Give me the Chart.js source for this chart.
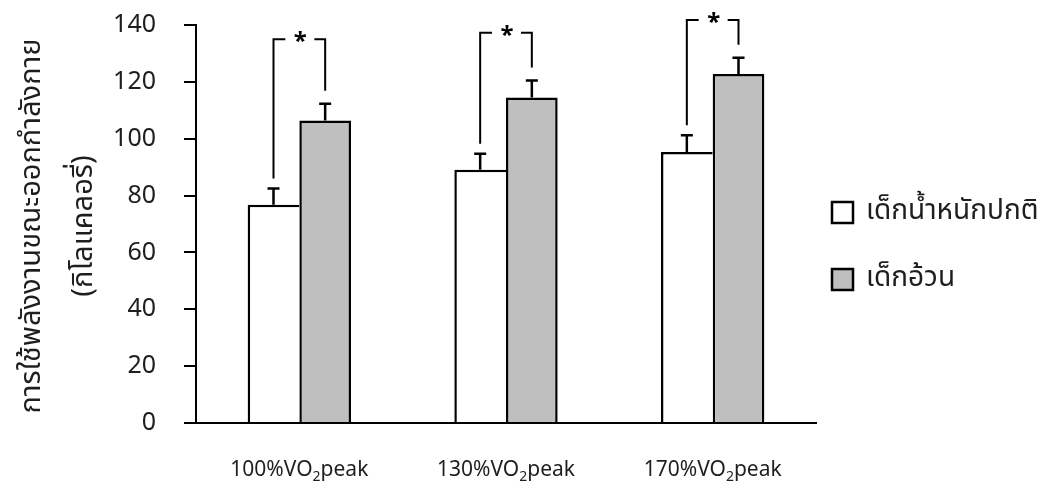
<!DOCTYPE html>
<html>
<head>
<meta charset="utf-8">
<script src="https://cdn.jsdelivr.net/npm/chart.js@4.4.1/dist/chart.umd.min.js"></script>
<style>
  html, body { margin: 0; padding: 0; background: #fff; }
  #wrap { width: 1051px; height: 489px; position: relative; }
</style>
</head>
<body>
<div id="wrap"><canvas id="chart"></canvas></div>
<script>
// ข้อมูล: พลังงานที่ใช้ขณะออกกำลังกาย (กิโลแคลอรี่)
const categories = ['100%VO₂peak', '130%VO₂peak', '170%VO₂peak'];
const seriesNames = ['เด็กน้ำหนักปกติ', 'เด็กอ้วน'];
const normalMean = [76.8, 89.1, 95.3];
const normalSD = [5.7, 5.6, 5.9];
const obeseMean = [106.4, 114.5, 122.8];
const obeseSD = [5.9, 6.0, 5.7];
const sigLevel = [135, 137.3, 141.8];
const yTicks = [0, 20, 40, 60, 80, 100, 120, 140];
const yTitle = ['การใช้พลังงานขณะออกกำลังกาย', '(กิโลแคลอรี่)'];

const INK = '#1e1e1e';
const FONT = '"Noto Sans", "Noto Sans Thai", Tahoma, sans-serif';

// เส้น error bar (ด้านบน) + วงเล็บนัยสำคัญ + ป้ายแกน x + คำอธิบาย
const extras = {
    id: 'extras',
    afterDatasetsDraw(chart) {
        const {ctx, scales: {y}} = chart;
        const sds = [normalSD, obeseSD];
        const capTops = [[], []];

        ctx.save();
        ctx.strokeStyle = '#000';
        ctx.lineWidth = 2.5;
        chart.data.datasets.forEach((ds, di) => {
            chart.getDatasetMeta(di).data.forEach((bar, i) => {
                const top = y.getPixelForValue(ds.data[i] + sds[di][i]);
                capTops[di][i] = top;
                ctx.beginPath();
                ctx.moveTo(bar.x, bar.y);
                ctx.lineTo(bar.x, top);
                ctx.moveTo(bar.x - 6, top);
                ctx.lineTo(bar.x + 6, top);
                ctx.stroke();
            });
        });

        // วงเล็บ * ระหว่างสองกลุ่ม
        ctx.lineWidth = 2;
        const left = chart.getDatasetMeta(0).data;
        const right = chart.getDatasetMeta(1).data;
        categories.forEach((c, i) => {
            const xl = left[i].x, xr = right[i].x;
            const yt = y.getPixelForValue(sigLevel[i]);
            const mid = (xl + xr) / 2;
            ctx.beginPath();
            ctx.moveTo(xl, capTops[0][i] - 10);
            ctx.lineTo(xl, yt);
            ctx.lineTo(mid - 14, yt);
            ctx.moveTo(mid + 15, yt);
            ctx.lineTo(xr, yt);
            ctx.lineTo(xr, capTops[1][i] - 13);
            ctx.stroke();
            ctx.fillStyle = '#000';
            ctx.font = 'bold 24px ' + FONT;
            ctx.textAlign = 'center';
            ctx.textBaseline = 'middle';
            ctx.fillText('*', mid + 1, yt + 3);
        });
        ctx.restore();
    },
    afterDraw(chart) {
        const {ctx, scales: {x}, chartArea} = chart;
        ctx.save();
        ctx.fillStyle = INK;

        // ป้ายแกน x พร้อมตัวห้อย
        categories.forEach((label, i) => {
            const [pre, post] = label.split('₂');
            const big = '21px ' + FONT, small = '14px ' + FONT;
            ctx.font = big;
            const w1 = ctx.measureText(pre).width, w3 = ctx.measureText(post).width;
            ctx.font = small;
            const w2 = ctx.measureText('2').width;
            let cx = x.getPixelForValue(i) - (w1 + w2 + w3) / 2;
            const base = 476;
            ctx.textAlign = 'left';
            ctx.textBaseline = 'alphabetic';
            ctx.font = big; ctx.fillText(pre, cx, base); cx += w1;
            ctx.font = small; ctx.fillText('2', cx, base + 5); cx += w2;
            ctx.font = big; ctx.fillText(post, cx, base);
        });

        // ชื่อแกน y สองบรรทัด
        ctx.font = '29px ' + FONT;
        ctx.textAlign = 'center';
        ctx.textBaseline = 'middle';
        const cy = (chartArea.top + chartArea.bottom) / 2;
        [[32, yTitle[0]], [84, yTitle[1]]].forEach(([px, t]) => {
            ctx.save();
            ctx.translate(px, cy + 2);
            ctx.rotate(-Math.PI / 2);
            ctx.fillText(t, 0, 0);
            ctx.restore();
        });

        // คำอธิบายสัญลักษณ์
        const fills = ['#ffffff', '#bfbfbf'];
        seriesNames.forEach((name, i) => {
            const top = 202 + i * 67;
            ctx.fillStyle = fills[i];
            ctx.fillRect(832, top, 21, 21);
            ctx.strokeStyle = '#000';
            ctx.lineWidth = 2.5;
            ctx.strokeRect(832, top, 21, 21);
            ctx.fillStyle = INK;
            ctx.font = '28px ' + FONT;
            ctx.textAlign = 'left';
            ctx.textBaseline = 'middle';
            ctx.fillText(name, 866, top + 9);
        });
        ctx.restore();
    }
};

new Chart(document.getElementById('chart'), {
    type: 'bar',
    data: {
        labels: categories,
        datasets: [{
            label: seriesNames[0],
            data: normalMean,
            backgroundColor: '#ffffff',
            borderColor: '#000',
            borderWidth: {top: 2.5, left: 2.5, right: 0, bottom: 0},
            borderSkipped: 'start'
        }, {
            label: seriesNames[1],
            data: obeseMean,
            backgroundColor: '#bfbfbf',
            borderColor: '#000',
            borderWidth: {top: 2.5, left: 2.5, right: 2.5, bottom: 0},
            borderSkipped: 'start'
        }]
    },
    options: {
        responsive: true,
        maintainAspectRatio: false,
        animation: false,
        categoryPercentage: 0.5,
        barPercentage: 1.0,
        layout: {padding: {top: 25, right: 235, bottom: 0, left: 0}},
        plugins: {legend: {display: false}, tooltip: {enabled: false}},
        scales: {
            x: {
                grid: {display: false},
                border: {color: '#000', width: 2},
                ticks: {display: false},
                afterFit: s => { s.height = 66; }
            },
            y: {
                min: 0,
                max: 140,
                afterBuildTicks: s => { s.ticks = yTicks.map(v => ({value: v})); },
                ticks: {color: INK, font: {family: FONT, size: 25}, padding: 28},
                grid: {drawOnChartArea: false, drawTicks: true, tickLength: 12, color: '#000', lineWidth: 2},
                border: {color: '#000', width: 2},
                afterFit: s => {
                    s.width = 196;
                    s.paddingTop = 0;
                    s.paddingBottom = 0;
                }
            }
        }
    },
    plugins: [extras]
});
</script>
</body>
</html>
